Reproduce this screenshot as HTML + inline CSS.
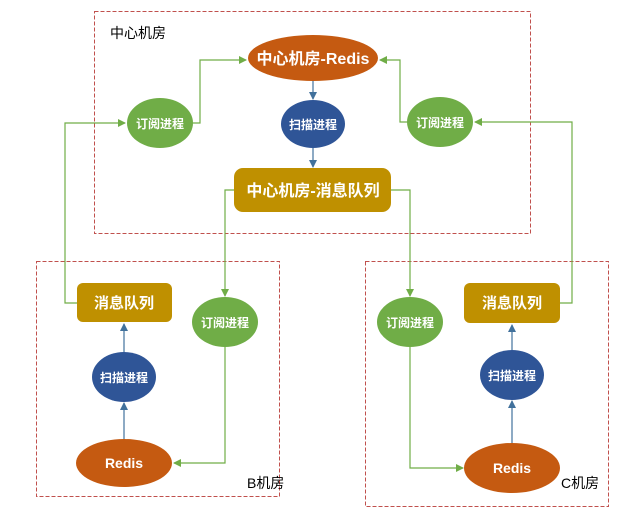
<!DOCTYPE html>
<html><head><meta charset="utf-8"><style>
body{margin:0;background:#fff}
svg text{font-family:"Liberation Sans","Noto Sans CJK SC",sans-serif}
</style></head><body>
<svg width="640" height="516" viewBox="0 0 640 516" xmlns="http://www.w3.org/2000/svg">
<defs>
<marker id="g" markerWidth="8" markerHeight="8" refX="7" refY="4" orient="auto" markerUnits="userSpaceOnUse"><path d="M0,0 L8,4 L0,8 z" fill="#70ad47"/></marker>
<marker id="b" markerWidth="8" markerHeight="8" refX="7" refY="4" orient="auto" markerUnits="userSpaceOnUse"><path d="M0,0 L8,4 L0,8 z" fill="#41719c"/></marker>
</defs>
<g fill="none" stroke="#c0504d" stroke-width="1" stroke-dasharray="4,2">
<rect x="94.5" y="11.5" width="436" height="222"/>
<rect x="36.5" y="261.5" width="243" height="235"/>
<rect x="365.5" y="261.5" width="243" height="245"/>
</g>
<g fill="none" stroke="#70ad47" stroke-width="1.2">
<path d="M193,123 H200 V60 H246" marker-end="url(#g)"/>
<path d="M407,122 H400 V60 H380" marker-end="url(#g)"/>
<path d="M77,303 H65 V123 H125" marker-end="url(#g)"/>
<path d="M234,190 H225 V296" marker-end="url(#g)"/>
<path d="M225,347 V463 H174" marker-end="url(#g)"/>
<path d="M391,190 H410 V296" marker-end="url(#g)"/>
<path d="M410,347 V468 H463" marker-end="url(#g)"/>
<path d="M560,303 H572 V122 H475" marker-end="url(#g)"/>
</g>
<g fill="none" stroke="#41719c" stroke-width="1.2">
<path d="M313,81 V99" marker-end="url(#b)"/>
<path d="M313,148 V167" marker-end="url(#b)"/>
<path d="M124,439 V403" marker-end="url(#b)"/>
<path d="M124,352 V324" marker-end="url(#b)"/>
<path d="M512,443 V401" marker-end="url(#b)"/>
<path d="M512,350 V325" marker-end="url(#b)"/>
</g>
<ellipse cx="313" cy="58" rx="65" ry="23" fill="#c55a11"/>
<ellipse cx="313" cy="124" rx="32" ry="24" fill="#2f5597"/>
<rect x="234" y="168" width="157" height="44" rx="9" fill="#bf9000"/>
<ellipse cx="160" cy="123" rx="33" ry="25" fill="#70ad47"/>
<ellipse cx="440" cy="122" rx="33" ry="25" fill="#70ad47"/>
<rect x="77" y="283" width="95" height="39" rx="6" fill="#bf9000"/>
<ellipse cx="124" cy="377" rx="32" ry="25" fill="#2f5597"/>
<ellipse cx="124" cy="463" rx="48" ry="24" fill="#c55a11"/>
<ellipse cx="225" cy="322" rx="33" ry="25" fill="#70ad47"/>
<rect x="464" y="283" width="96" height="40" rx="6" fill="#bf9000"/>
<ellipse cx="512" cy="375" rx="32" ry="25" fill="#2f5597"/>
<ellipse cx="512" cy="468" rx="48" ry="25" fill="#c55a11"/>
<ellipse cx="410" cy="322" rx="33" ry="25" fill="#70ad47"/>
<g fill="#fff" text-anchor="middle" font-weight="bold">
<text x="313" y="64" font-size="16">中心机房-Redis</text>
<text x="313" y="129" font-size="12">扫描进程</text>
<text x="313" y="196" font-size="16">中心机房-消息队列</text>
<text x="160" y="128" font-size="12">订阅进程</text>
<text x="440" y="127" font-size="12">订阅进程</text>
<text x="124" y="308" font-size="15">消息队列</text>
<text x="124" y="382" font-size="12">扫描进程</text>
<text x="124" y="468" font-size="14">Redis</text>
<text x="225" y="327" font-size="12">订阅进程</text>
<text x="512" y="308" font-size="15">消息队列</text>
<text x="512" y="380" font-size="12">扫描进程</text>
<text x="512" y="473" font-size="14">Redis</text>
<text x="410" y="327" font-size="12">订阅进程</text>
</g>
<g fill="#000" font-size="14">
<text x="110" y="38">中心机房</text>
<text x="247" y="488">B机房</text>
<text x="561" y="488">C机房</text>
</g>
</svg>
</body></html>
